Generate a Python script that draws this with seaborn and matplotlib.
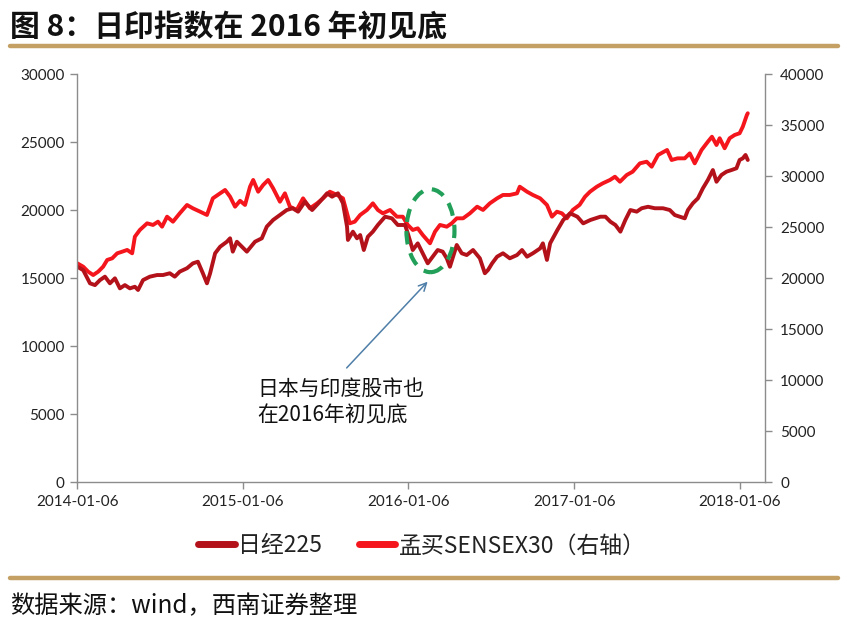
import matplotlib
matplotlib.use("Agg")
import pandas as pd
import seaborn as sns
import matplotlib.pyplot as plt
import matplotlib.dates as mdates
from matplotlib.patches import Ellipse
from matplotlib.lines import Line2D

# ---------------- data ----------------
nikkei_dates = [
    "2014-01-06","2014-01-19","2014-02-03","2014-02-14","2014-02-25","2014-03-08","2014-03-19","2014-03-30",
    "2014-04-10","2014-04-21","2014-05-02","2014-05-13","2014-05-20","2014-05-31","2014-06-15","2014-07-01",
    "2014-07-14","2014-07-29","2014-08-09","2014-08-20","2014-09-05","2014-09-18","2014-09-29","2014-10-10",
    "2014-10-19","2014-10-26","2014-11-06","2014-11-17","2014-12-02","2014-12-09","2014-12-15","2014-12-24",
    "2015-01-04","2015-01-15","2015-02-02","2015-02-17","2015-02-28","2015-03-14","2015-03-29","2015-04-13",
    "2015-04-26","2015-05-08","2015-05-23","2015-06-08","2015-06-25","2015-07-11","2015-07-22","2015-08-04",
    "2015-08-15","2015-08-24","2015-08-26","2015-09-06","2015-09-15","2015-09-22","2015-09-30","2015-10-09",
    "2015-10-20","2015-10-31","2015-11-16","2015-12-01","2015-12-14","2015-12-30","2016-01-05","2016-01-16",
    "2016-01-27","2016-02-07","2016-02-18","2016-02-29","2016-03-11","2016-03-22","2016-03-31","2016-04-07",
    "2016-04-22","2016-05-03","2016-05-14","2016-05-28","2016-06-12","2016-06-23","2016-06-30","2016-07-09",
    "2016-07-20","2016-08-02","2016-08-17","2016-09-02","2016-09-13","2016-09-24","2016-10-07","2016-10-23",
    "2016-10-29","2016-11-07","2016-11-14","2016-11-30","2016-12-13","2016-12-28","2017-01-13","2017-01-26",
    "2017-02-11","2017-03-05","2017-03-16","2017-03-27","2017-04-07","2017-04-18","2017-04-29","2017-05-10",
    "2017-05-24","2017-06-04","2017-06-18","2017-07-03","2017-07-21","2017-08-05","2017-08-16","2017-08-27",
    "2017-09-07","2017-09-14","2017-09-25","2017-10-06","2017-10-17","2017-10-28","2017-11-08","2017-11-16",
    "2017-11-27","2017-12-08","2017-12-19","2017-12-30","2018-01-06","2018-01-13","2018-01-19","2018-01-24",
]
nikkei_values = [
    15850,15600,14630,14500,14870,15120,14630,15000,
    14260,14500,14260,14380,14140,14870,15120,15240,
    15240,15370,15120,15490,15740,16100,16220,15370,
    14630,15370,16840,17320,17690,17940,16960,17690,
    17320,16960,17690,17940,18800,19290,19650,20020,
    20150,19900,20630,20020,20630,21250,21000,21250,
    20520,18800,17820,18430,17940,18180,17080,18060,
    18430,18920,19530,19410,18920,18920,18310,17080,
    17570,16840,16100,16590,17080,16960,16470,15850,
    17450,16840,16710,17080,16470,15370,15610,16100,
    16590,16840,16470,16710,17080,16590,16840,17200,
    17570,16350,17570,18550,19290,19780,19530,19040,
    19290,19530,19530,19160,18920,18430,19290,20020,
    19900,20150,20260,20150,20150,20020,19650,19530,
    19410,20020,20520,20880,21620,22230,22960,22100,
    22600,22840,22960,23090,23700,23820,24070,23700,
]

sensex_dates = [
    "2014-01-06","2014-01-19","2014-01-30","2014-02-10","2014-02-21","2014-03-04","2014-03-13","2014-03-24",
    "2014-04-04","2014-04-15","2014-04-26","2014-05-07","2014-05-13","2014-05-24","2014-06-09","2014-06-22",
    "2014-07-03","2014-07-12","2014-07-23","2014-08-05","2014-08-20","2014-09-05","2014-09-18","2014-10-04",
    "2014-10-19","2014-11-01","2014-11-17","2014-11-28","2014-12-09","2014-12-20","2014-12-31","2015-01-11",
    "2015-01-22","2015-01-29","2015-02-09","2015-02-20","2015-03-03","2015-03-14","2015-03-29","2015-04-09",
    "2015-04-20","2015-05-05","2015-05-19","2015-06-03","2015-06-19","2015-07-02","2015-07-17","2015-08-02",
    "2015-08-15","2015-08-24","2015-08-30","2015-09-10","2015-09-22","2015-10-07","2015-10-20","2015-10-31",
    "2015-11-11","2015-11-27","2015-12-12","2015-12-25","2016-01-05","2016-01-16","2016-01-27","2016-02-07",
    "2016-02-23","2016-03-05","2016-03-16","2016-03-31","2016-04-11","2016-04-22","2016-05-06","2016-05-21",
    "2016-06-06","2016-06-19","2016-07-04","2016-07-20","2016-08-02","2016-08-17","2016-09-02","2016-09-08",
    "2016-09-24","2016-10-07","2016-10-23","2016-11-07","2016-11-18","2016-11-29","2016-12-10","2016-12-21",
    "2017-01-03","2017-01-18","2017-01-30","2017-02-10","2017-02-25","2017-03-10","2017-03-26","2017-04-06",
    "2017-04-17","2017-05-02","2017-05-15","2017-05-31","2017-06-15","2017-06-26","2017-07-10","2017-07-30",
    "2017-08-09","2017-08-22","2017-09-07","2017-09-18","2017-09-29","2017-10-14","2017-10-28","2017-11-06",
    "2017-11-16","2017-11-23","2017-12-04","2017-12-15","2017-12-26","2018-01-06","2018-01-13","2018-01-22",
    "2018-01-24",
]
sensex_values = [
    21470,21140,20650,20320,20650,21140,21800,21960,
    22450,22610,22780,22450,24080,24740,25390,25230,
    25550,25060,26040,25550,26370,27190,26860,26530,
    26210,27840,28330,28660,28000,27020,27600,27190,
    28980,29640,28490,29150,29640,28820,27510,28330,
    27020,26700,27840,26860,27350,27840,28490,28170,
    27840,26370,25390,25550,26210,26700,27350,26700,
    26370,26700,26040,26040,25230,24740,24900,24250,
    23430,24570,25230,25060,25390,25880,25880,26370,
    27020,26700,27350,27840,28170,28170,28330,28980,
    28490,28170,27840,27190,26040,26530,26370,25880,
    26700,27200,28000,28490,28980,29310,29640,29960,
    29470,30130,30450,31270,31430,30940,32090,32580,
    31600,31760,31760,32250,31270,32580,33390,33880,
    33070,33730,32750,33730,34050,34220,34860,36010,
    36180,
]

xtick_labels = ["2014-01-06", "2015-01-06", "2016-01-06", "2017-01-06", "2018-01-06"]
left_ticks = [0, 5000, 10000, 15000, 20000, 25000, 30000]
right_ticks = [0, 5000, 10000, 15000, 20000, 25000, 30000, 35000, 40000]
series_names = ["日经225", "孟买SENSEX30（右轴）"]
title_text = "图 8：日印指数在 2016 年初见底"
source_text = "数据来源：wind，西南证券整理"
note_text = "日本与印度股市也\n在2016年初见底"

# ---------------- style ----------------
NIKKEI_COLOR = "#B3121B"
SENSEX_COLOR = "#F4161C"
GOLD = "#C4A064"
AXIS_GRAY = "#8C8C8C"

sns.set_theme(style="white")
plt.rcParams["font.family"] = ["Noto Sans CJK SC", "DejaVu Sans"]

fig = plt.figure(figsize=(8.6, 6.24), dpi=100)
W, H = 860, 624
ax = fig.add_axes([77.3 / W, 1 - 482.3 / H, (765 - 77.3) / W, (482.3 - 74.3) / H])
ax2 = ax.twinx()

df_n = pd.DataFrame({"date": pd.to_datetime(nikkei_dates), "value": nikkei_values})
df_s = pd.DataFrame({"date": pd.to_datetime(sensex_dates), "value": sensex_values})

sns.lineplot(data=df_s, x="date", y="value", ax=ax2, color=SENSEX_COLOR, lw=2.8, legend=False)
sns.lineplot(data=df_n, x="date", y="value", ax=ax, color=NIKKEI_COLOR, lw=2.8, legend=False)

# nikkei axis on top of sensex axis
ax.set_zorder(ax2.get_zorder() + 1)
ax.patch.set_visible(False)

ax.set_xlim(pd.Timestamp("2014-01-06"), pd.Timestamp("2018-03-03"))
ax.set_ylim(0, 30000)
ax2.set_ylim(0, 40000)
ax.set_yticks(left_ticks)
ax2.set_yticks(right_ticks)
ax.set_xticks(pd.to_datetime(xtick_labels))
ax.set_xticklabels(xtick_labels)
ax.set_xlabel("")
ax.set_ylabel("")
ax2.set_ylabel("")

for lab in ax.get_xticklabels() + ax.get_yticklabels() + ax2.get_yticklabels():
    lab.set_fontfamily(["Lato", "DejaVu Sans"])
    lab.set_fontsize(11)
    lab.set_color("#222222")

for a in (ax, ax2):
    for s in a.spines.values():
        s.set_visible(False)
        s.set_color(AXIS_GRAY)
        s.set_linewidth(1.0)
ax.spines["left"].set_visible(True)
ax.spines["bottom"].set_visible(True)
ax2.spines["right"].set_visible(True)

ax.tick_params(axis="both", which="both", direction="out", length=5, width=1,
               color=AXIS_GRAY, left=True, bottom=True, right=False, top=False, pad=4)
ax2.tick_params(axis="y", direction="out", length=5, width=1, color=AXIS_GRAY,
                right=True, left=False, pad=6)
ax2.tick_params(axis="x", bottom=False, top=False, labelbottom=False)
ax.grid(False)
ax2.grid(False)

# ---------------- annotation ----------------
ell_center = mdates.date2num(pd.Timestamp("2016-02-24"))
ax.add_patch(Ellipse((ell_center, 18500), width=106, height=6100, fill=False,
                     edgecolor="#22A05A", lw=3, linestyle=(0, (3.2, 2.2)), zorder=5))
ax.annotate("", xy=(pd.Timestamp("2016-02-22"), 14900),
            xytext=(pd.Timestamp("2015-08-19"), 8260),
            arrowprops=dict(arrowstyle="->", color="#4F7FA8", lw=1.1, mutation_scale=14),
            zorder=5)
ax.text(pd.Timestamp("2015-02-08"), 7700, note_text, fontsize=15, va="top", ha="left",
        linespacing=1.3, color="#111111")

# ---------------- legend ----------------
leg = fig.legend(handles=[Line2D([], [], color=NIKKEI_COLOR, lw=5),
                          Line2D([], [], color=SENSEX_COLOR, lw=5)],
                 labels=series_names, loc="center", bbox_to_anchor=(422 / W, 1 - 546 / H),
                 ncol=2, frameon=False, fontsize=16.5, handlelength=1.6, handletextpad=0.15,
                 columnspacing=1.6)
for t in leg.get_texts():
    t.set_color("#222222")

# ---------------- title, rules, source ----------------
fig.text(10 / W, 1 - 27 / H, title_text, fontsize=21.5, fontweight="bold", va="center", ha="left",
         color="#111111")
fig.add_artist(Line2D([10 / W, 838 / W], [1 - 46 / H, 1 - 46 / H], color=GOLD, lw=3.2))
fig.add_artist(Line2D([10 / W, 838 / W], [1 - 578 / H, 1 - 578 / H], color=GOLD, lw=3.2))
fig.text(10 / W, 1 - 606 / H, source_text, fontsize=17.5, style="italic", va="center", ha="left",
         color="#111111")

fig.savefig("out.png", dpi=100, facecolor="white")
